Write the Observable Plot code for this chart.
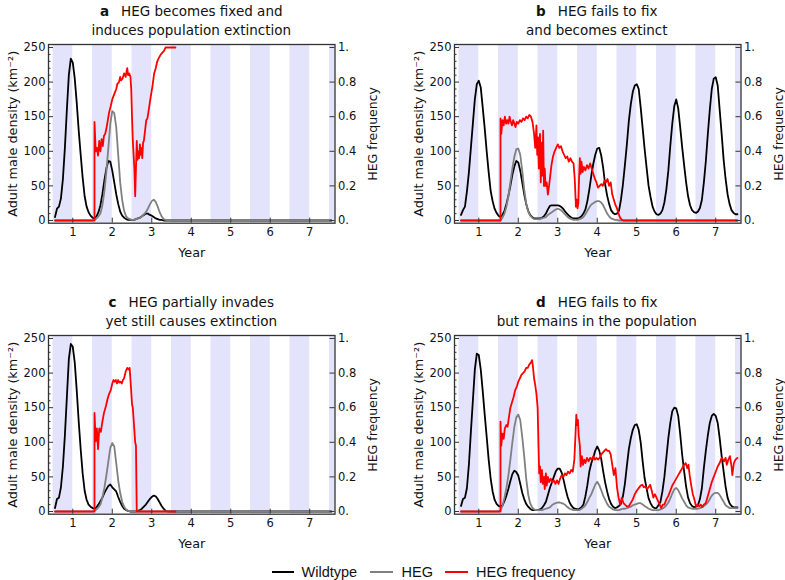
<!DOCTYPE html>
<html><head><meta charset="utf-8">
<script src="https://cdn.jsdelivr.net/npm/d3@7"></script>
<script src="https://cdn.jsdelivr.net/npm/@observablehq/plot@0.6"></script>
<style>
body{margin:0;background:#fff;}
#wrap{position:relative;width:785px;height:580px;overflow:hidden;font-family:"DejaVu Sans";background:#fff;}
.panel{position:absolute;}
.title{position:absolute;text-align:center;font-size:13.5px;line-height:19px;color:#111;white-space:nowrap;}
.title b{margin-right:12px;}
.leg{position:absolute;top:562px;font-family:"Liberation Sans",Arial,sans-serif;font-size:14.5px;color:#111;line-height:20px;}
.sw{position:absolute;height:0;border-top:2px solid #000;top:571px;}
</style></head>
<body><div id="wrap"></div>
<script>
// ---- shared sampling grid (years) ----
const years = [0.55,0.6,0.65,0.7,0.75,0.8,0.85,0.9,0.95,1,1.05,1.1,1.15,1.2,1.25,1.3,1.35,1.4,1.45,1.5,
1.55,1.6,1.65,1.7,1.75,1.8,1.85,1.9,1.95,2,2.05,2.1,2.15,2.2,2.25,2.3,2.35,2.4,2.45,2.5,
2.55,2.6,2.65,2.7,2.75,2.8,2.85,2.9,2.95,3,3.05,3.1,3.15,3.2,3.25,3.3,3.35,3.4,3.45,3.5,
3.55,3.6,3.65,3.7,3.75,3.8,3.85,3.9,3.95,4,4.05,4.1,4.15,4.2,4.25,4.3,4.35,4.4,4.45,4.5,
4.55,4.6,4.65,4.7,4.75,4.8,4.85,4.9,4.95,5,5.05,5.1,5.15,5.2,5.25,5.3,5.35,5.4,5.45,5.5,
5.55,5.6,5.65,5.7,5.75,5.8,5.85,5.9,5.95,6,6.05,6.1,6.15,6.2,6.25,6.3,6.35,6.4,6.45,6.5,
6.55,6.6,6.65,6.7,6.75,6.8,6.85,6.9,6.95,7,7.05,7.1,7.15,7.2,7.25,7.3,7.35,7.4,7.45,7.5,
7.55];

// ---- panel a ----
const wildA = [5,17,20,32,60,105,160,210,234,228,205,170,130,95,62,35,20,12,7,4,
3,6,12,22,38,58,75,86,85,72,55,38,24,13,7,4,2,1,1,1,
1,2,3,4,6,8,10,10,8,7,5,3,2,1,1,0,0,0,0,0,
0,0,0,0,0,0,0,0,0,0,0,0,0,0,0,0,0,0,0,0,
0,0,0,0,0,0,0,0,0,0,0,0,0,0,0,0,0,0,0,0,
0,0,0,0,0,0,0,0,0,0,0,0,0,0,0,0,0,0,0,0,
0,0,0,0,0,0,0,0,0,0,0,0,0,0,0,0,0,0,0,0,
0];
const hegA = [0,0,0,0,0,0,0,0,0,0,0,0,0,0,0,0,0,0,0,0,
1,3,6,10,22,42,70,105,140,158,155,135,95,55,30,14,6,3,2,1,
1,2,3,4,6,9,12,17,23,28,30,27,20,12,6,2,1,0,0,0,
0,0,0,0,0,0,0,0,0,0,0,0,0,0,0,0,0,0,0,0,
0,0,0,0,0,0,0,0,0,0,0,0,0,0,0,0,0,0,0,0,
0,0,0,0,0,0,0,0,0,0,0,0,0,0,0,0,0,0,0,0,
0,0,0,0,0,0,0,0,0,0,0,0,0,0,0,0,0,0,0,0,
0];
const freqA = [[0.55,0],[1.55,0],[1.55,0.57],[1.58,0.4],[1.61,0.42],[1.64,0.375],[1.67,0.46],[1.7,0.4],[1.73,0.47],[1.76,0.43],[1.79,0.49],[1.82,0.5],[1.85,0.53],[1.88,0.57],[1.92,0.625],[1.96,0.66],[2.0,0.7],[2.05,0.73],[2.1,0.76],[2.13,0.79],[2.17,0.8],[2.2,0.83],[2.22,0.81],[2.26,0.82],[2.3,0.85],[2.34,0.83],[2.36,0.86],[2.38,0.88],[2.4,0.84],[2.43,0.85],[2.46,0.83],[2.48,0.76],[2.5,0.6],[2.52,0.46],[2.54,0.38],[2.56,0.3],[2.58,0.14],[2.6,0.3],[2.62,0.46],[2.64,0.35],[2.66,0.4],[2.68,0.36],[2.7,0.44],[2.72,0.38],[2.74,0.42],[2.76,0.36],[2.78,0.45],[2.8,0.46],[2.83,0.52],[2.86,0.58],[2.89,0.59],[2.93,0.65],[2.97,0.71],[3.02,0.78],[3.06,0.85],[3.1,0.88],[3.14,0.92],[3.18,0.94],[3.23,0.96],[3.27,0.97],[3.31,0.98],[3.35,1],[3.4,1],[3.6,1]];

// ---- panel b ----
const wildB = [8,15,20,42,70,105,140,175,197,202,192,163,133,100,70,43,28,17,11,7,
5,8,14,24,36,50,66,78,86,84,72,55,38,24,14,8,5,3,3,3,
3,4,6,10,16,21,22,22,22,22,21,19,16,12,9,6,4,3,3,3,
4,6,10,16,28,45,65,82,95,104,105,94,76,52,36,24,15,11,9,10,
14,30,52,80,110,144,168,186,195,197,190,163,133,103,76,50,34,20,13,9,
8,10,15,26,45,72,108,140,165,175,162,135,106,80,55,35,22,15,12,11,
13,18,30,55,86,125,160,190,205,207,195,160,125,88,60,38,24,15,11,9,
9];
const hegB = [0,0,0,0,0,0,0,0,0,0,0,0,0,0,0,0,0,0,0,0,
0,4,10,20,35,55,75,92,103,104,95,72,45,25,13,7,4,2,2,2,
2,3,4,5,8,10,12,14,16,17,16,14,11,8,5,3,2,1,1,1,
2,3,5,9,14,19,23,25,27,28,28,26,22,16,10,6,3,2,1,1,
0,0,0,0,0,0,0,0,0,0,0,0,0,0,0,0,0,0,0,0,
0,0,0,0,0,0,0,0,0,0,0,0,0,0,0,0,0,0,0,0,
0,0,0,0,0,0,0,0,0,0,0,0,0,0,0,0,0,0,0,0,
0];
const freqB = [[0.55,0],[1.55,0],[1.55,0.59],[1.57,0.5],[1.6,0.58],[1.63,0.55],[1.66,0.6],[1.69,0.56],[1.72,0.58],[1.75,0.56],[1.78,0.6],[1.81,0.57],[1.84,0.55],[1.87,0.58],[1.9,0.56],[1.93,0.54],[1.96,0.57],[2.0,0.56],[2.04,0.58],[2.08,0.57],[2.12,0.59],[2.16,0.58],[2.2,0.6],[2.24,0.59],[2.28,0.61],[2.32,0.6],[2.36,0.57],[2.4,0.5],[2.43,0.42],[2.46,0.55],[2.48,0.38],[2.5,0.48],[2.52,0.3],[2.55,0.5],[2.57,0.22],[2.59,0.45],[2.61,0.26],[2.63,0.52],[2.65,0.2],[2.67,0.3],[2.69,0.2],[2.72,0.22],[2.75,0.15],[2.78,0.2],[2.81,0.26],[2.84,0.32],[2.88,0.37],[2.92,0.4],[2.96,0.42],[3.0,0.44],[3.04,0.42],[3.08,0.43],[3.12,0.4],[3.16,0.38],[3.2,0.36],[3.24,0.37],[3.28,0.34],[3.32,0.36],[3.36,0.34],[3.4,0.33],[3.43,0.24],[3.46,0.08],[3.48,0.12],[3.5,0.07],[3.52,0.1],[3.54,0.25],[3.56,0.36],[3.58,0.27],[3.6,0.34],[3.63,0.28],[3.66,0.31],[3.7,0.29],[3.74,0.32],[3.78,0.3],[3.82,0.33],[3.86,0.3],[3.9,0.27],[3.94,0.24],[3.98,0.22],[4.02,0.19],[4.06,0.2],[4.1,0.21],[4.14,0.2],[4.18,0.23],[4.22,0.22],[4.26,0.24],[4.3,0.2],[4.34,0.22],[4.38,0.15],[4.42,0.12],[4.46,0.09],[4.5,0.07],[4.54,0.04],[4.58,0.015],[4.62,0.005],[4.66,0],[7.55,0]];

// ---- panel c ----
const wildC = [5,18,20,35,65,110,165,220,242,238,215,175,130,90,55,30,17,10,7,5,
4,6,10,15,20,27,32,37,39,35,32,29,21,14,8,4,2,1,0,0,
0,0,1,2,4,7,10,14,18,21,23,22,18,13,8,4,1,0,0,0,
0,0,0,0,0,0,0,0,0,0,0,0,0,0,0,0,0,0,0,0,
0,0,0,0,0,0,0,0,0,0,0,0,0,0,0,0,0,0,0,0,
0,0,0,0,0,0,0,0,0,0,0,0,0,0,0,0,0,0,0,0,
0,0,0,0,0,0,0,0,0,0,0,0,0,0,0,0,0,0,0,0,
0];
const hegC = [0,0,0,0,0,0,0,0,0,0,0,0,0,0,0,0,0,0,0,0,
1,3,6,10,20,34,52,72,92,99,94,70,45,27,14,7,3,1,0,0,
0,0,0,0,0,0,0,0,0,0,0,0,0,0,0,0,0,0,0,0,
0,0,0,0,0,0,0,0,0,0,0,0,0,0,0,0,0,0,0,0,
0,0,0,0,0,0,0,0,0,0,0,0,0,0,0,0,0,0,0,0,
0,0,0,0,0,0,0,0,0,0,0,0,0,0,0,0,0,0,0,0,
0,0,0,0,0,0,0,0,0,0,0,0,0,0,0,0,0,0,0,0,
0];
const freqC = [[0.55,0],[1.55,0],[1.55,0.57],[1.58,0.405],[1.61,0.48],[1.64,0.36],[1.67,0.48],[1.71,0.46],[1.75,0.52],[1.79,0.57],[1.84,0.61],[1.88,0.65],[1.92,0.68],[1.96,0.7],[2.0,0.74],[2.03,0.76],[2.06,0.75],[2.09,0.76],[2.12,0.74],[2.15,0.76],[2.18,0.745],[2.21,0.75],[2.24,0.74],[2.27,0.76],[2.3,0.77],[2.34,0.81],[2.38,0.83],[2.42,0.82],[2.44,0.83],[2.47,0.73],[2.5,0.62],[2.52,0.6],[2.55,0.5],[2.58,0.4],[2.6,0.38],[2.62,0],[3.6,0]];

// ---- panel d ----
const wildD = [8,18,20,34,68,115,160,205,228,226,205,174,140,108,75,48,29,17,11,8,
7,9,15,23,33,44,54,59,57,52,40,27,18,11,7,4,2,2,2,2,
3,5,9,14,24,34,42,50,58,62,62,56,45,32,21,13,8,5,4,3,
4,6,10,22,38,58,70,78,88,94,88,76,58,42,29,18,11,7,5,6,
8,11,22,40,66,90,106,118,125,126,118,100,72,48,33,19,12,7,5,5,
9,14,29,50,78,106,128,145,150,149,138,112,82,58,36,20,12,8,6,7,
9,18,34,63,88,110,128,138,141,138,128,106,80,58,36,20,12,8,6,6,
6];
const hegD = [0,0,0,0,0,0,0,0,0,0,0,0,0,0,0,0,0,0,0,0,
2,8,20,34,52,75,100,122,136,140,132,108,80,48,25,12,6,3,2,2,
2,2,3,4,5,6,9,11,12,13,13,12,11,9,6,4,3,2,2,2,
2,4,6,9,14,20,25,32,39,43,38,31,23,17,11,7,5,3,2,2,
2,3,4,4,5,6,7,9,10,11,12,12,10,8,6,4,3,2,2,2,
2,3,4,6,9,13,19,26,32,34,31,25,19,14,9,6,5,4,4,4,
4,5,6,8,10,13,18,23,26,27,27,24,19,14,9,7,5,5,5,5,
5];
const freqD = [[0.55,0],[1.55,0],[1.55,0.52],[1.57,0.38],[1.6,0.45],[1.63,0.42],[1.66,0.48],[1.7,0.5],[1.73,0.49],[1.76,0.54],[1.8,0.6],[1.84,0.63],[1.88,0.66],[1.92,0.7],[1.96,0.72],[2.0,0.75],[2.04,0.77],[2.08,0.79],[2.12,0.8],[2.16,0.81],[2.2,0.83],[2.24,0.83],[2.28,0.85],[2.32,0.86],[2.35,0.875],[2.37,0.84],[2.4,0.77],[2.43,0.73],[2.46,0.68],[2.49,0.6],[2.51,0.4],[2.53,0.22],[2.55,0.26],[2.57,0.17],[2.6,0.24],[2.62,0.16],[2.65,0.2],[2.67,0.13],[2.7,0.22],[2.72,0.15],[2.75,0.2],[2.78,0.17],[2.82,0.19],[2.86,0.17],[2.9,0.18],[2.94,0.16],[2.98,0.18],[3.02,0.16],[3.06,0.19],[3.1,0.21],[3.14,0.2],[3.18,0.22],[3.22,0.21],[3.26,0.23],[3.3,0.22],[3.34,0.24],[3.38,0.23],[3.42,0.3],[3.45,0.45],[3.47,0.56],[3.49,0.5],[3.51,0.53],[3.53,0.44],[3.56,0.38],[3.58,0.26],[3.61,0.32],[3.64,0.27],[3.67,0.3],[3.7,0.28],[3.74,0.31],[3.78,0.29],[3.82,0.31],[3.86,0.3],[3.9,0.32],[3.94,0.3],[3.98,0.31],[4.02,0.3],[4.06,0.31],[4.1,0.33],[4.14,0.34],[4.18,0.35],[4.22,0.36],[4.26,0.35],[4.3,0.35],[4.34,0.33],[4.38,0.27],[4.42,0.21],[4.46,0.25],[4.5,0.14],[4.54,0.08],[4.58,0.04],[4.62,0.08],[4.66,0.05],[4.7,0.04],[4.75,0.03],[4.8,0.03],[4.85,0.05],[4.9,0.07],[4.95,0.1],[5.0,0.12],[5.05,0.135],[5.1,0.15],[5.14,0.155],[5.18,0.14],[5.22,0.145],[5.26,0.13],[5.3,0.14],[5.34,0.155],[5.38,0.12],[5.42,0.08],[5.46,0.1],[5.5,0.08],[5.54,0.06],[5.58,0.04],[5.62,0.02],[5.66,0.04],[5.7,0.04],[5.75,0.07],[5.8,0.09],[5.85,0.12],[5.9,0.15],[5.95,0.17],[6.0,0.19],[6.05,0.21],[6.1,0.23],[6.15,0.25],[6.2,0.27],[6.24,0.28],[6.28,0.25],[6.31,0.27],[6.34,0.21],[6.38,0.15],[6.42,0.1],[6.46,0.07],[6.5,0.03],[6.54,0.04],[6.58,0.03],[6.62,0.04],[6.66,0.025],[6.7,0.04],[6.75,0.05],[6.8,0.09],[6.85,0.13],[6.9,0.17],[6.95,0.2],[7.0,0.23],[7.05,0.26],[7.1,0.28],[7.15,0.31],[7.18,0.3],[7.21,0.29],[7.25,0.31],[7.28,0.27],[7.32,0.3],[7.36,0.32],[7.4,0.26],[7.42,0.21],[7.46,0.28],[7.5,0.3],[7.55,0.31]];

// ---- axes / bands ----
const densityTicks = [0,50,100,150,200,250];
const densityMinor = [10,20,30,40,60,70,80,90,110,120,130,140,160,170,180,190,210,220,230,240];
const freqTicks = [0,0.2,0.4,0.6,0.8,1];
const freqTickLabels = ["0.","0.2","0.4","0.6","0.8","1."];
const yearTicks = [1,2,3,4,5,6,7];
const seasonStarts = [0.5,1.5,2.5,3.5,4.5,5.5,6.5,7.5];
const seasonLength = 0.5;

const panelLetters = ["a","b","c","d"];
const titleLine1 = ["HEG becomes fixed and","HEG fails to fix","HEG partially invades","HEG fails to fix"];
const titleLine2 = ["induces population extinction","and becomes extinct","yet still causes extinction","but remains in the population"];
const wilds = [wildA, wildB, wildC, wildD];
const hegs = [hegA, hegB, hegC, hegD];
const freqs = [freqA, freqB, freqC, freqD];
const legendNames = ["Wildtype","HEG","HEG frequency"];
const colors = ["#000000","#808080","#ff0000"];

const W = 392, H = 270, ML = 48, MR = 57.5, MT = 44, MB = 47.3;
const PW = W - ML - MR, PH = H - MT - MB;
const lefts = [0, 405.5, 0, 405.5];
const tops = [0, 0, 291, 291];

const wrap = document.getElementById("wrap");

for (let p = 0; p < 4; p++) {
  const wd = years.map((t, i) => ({t, v: wilds[p][i]}));
  const hd = years.map((t, i) => ({t, v: hegs[p][i]}));
  const fd = freqs[p].map(([t, f]) => ({t, f}));
  const svg = Plot.plot({
    width: W, height: H,
    marginLeft: ML, marginRight: MR, marginTop: MT, marginBottom: MB,
    x: {domain: [0.385, 7.64]},
    y: {domain: [-3.9, 254.3]},
    style: {fontFamily: "DejaVu Sans", fontSize: "11.5px", color: "#111", background: "transparent", overflow: "visible"},
    marks: [
      Plot.rect(seasonStarts, {x1: d => d, x2: d => d + seasonLength, fill: "#e3e3fb", clip: true}),
      Plot.line(wd, {x: "t", y: "v", stroke: colors[0], strokeWidth: 1.8}),
      Plot.line(hd, {x: "t", y: "v", stroke: colors[1], strokeWidth: 1.8}),
      Plot.line(fd, {x: "t", y: d => d.f * 250, stroke: colors[2], strokeWidth: 1.8}),
      Plot.tickY(densityTicks, {y: d => d, insetRight: PW - 5, stroke: "#333"}),
      Plot.tickY(densityMinor, {y: d => d, insetRight: PW - 2.5, stroke: "#333"}),
      Plot.tickY(densityTicks, {y: d => d, insetLeft: PW - 5, stroke: "#333"}),
      Plot.tickX(yearTicks, {x: d => d, insetTop: PH - 5, stroke: "#333"}),
      Plot.frame({stroke: "#333", strokeWidth: 1.3}),
      Plot.axisY(densityTicks, {anchor: "left", tickSize: 0, tickPadding: 3, label: null}),
      Plot.axisY(freqTicks.map(f => f * 250), {anchor: "right", tickSize: 0, tickPadding: 3, label: null,
        tickFormat: d => freqTickLabels[Math.round(d / 50)]}),
      Plot.axisX(yearTicks, {anchor: "bottom", tickSize: 0, tickPadding: 5, label: null}),
      Plot.text(["Adult male density (km\u207B\u00B2)"], {text: d => d, frameAnchor: "left", dx: -36, rotate: -90, textAnchor: "middle", lineAnchor: "middle", fontSize: 12.8, fill: "#111"}),
      Plot.text(["HEG frequency"], {text: d => d, frameAnchor: "right", dx: 37.5, rotate: -90, textAnchor: "middle", lineAnchor: "middle", fontSize: 12.5, fill: "#111"}),
      Plot.text(["Year"], {text: d => d, frameAnchor: "bottom", dy: 30, textAnchor: "middle", lineAnchor: "middle", fontSize: 12.8, fill: "#111"})
    ]
  });
  svg.classList.add("panel");
  svg.style.left = lefts[p] + "px";
  svg.style.top = tops[p] + "px";
  wrap.appendChild(svg);

  const cx = lefts[p] + ML + PW / 2;
  const t = document.createElement("div");
  t.className = "title";
  t.style.left = (cx - 200) + "px";
  t.style.width = "400px";
  t.style.top = (tops[p] + 1.5) + "px";
  t.innerHTML = "<b>" + panelLetters[p] + "</b>" + titleLine1[p] + "<br>" + titleLine2[p];
  wrap.appendChild(t);
}

// legend
const swX = [271.5, 370, 445];
const swW = [22, 23, 23];
const txX = [301.5, 401.5, 476];
for (let i = 0; i < 3; i++) {
  const s = document.createElement("div");
  s.className = "sw";
  s.style.left = swX[i] + "px";
  s.style.width = swW[i] + "px";
  s.style.borderTopColor = colors[i];
  wrap.appendChild(s);
  const l = document.createElement("div");
  l.className = "leg";
  l.style.left = txX[i] + "px";
  l.textContent = legendNames[i];
  wrap.appendChild(l);
}
</script>
</body></html>
